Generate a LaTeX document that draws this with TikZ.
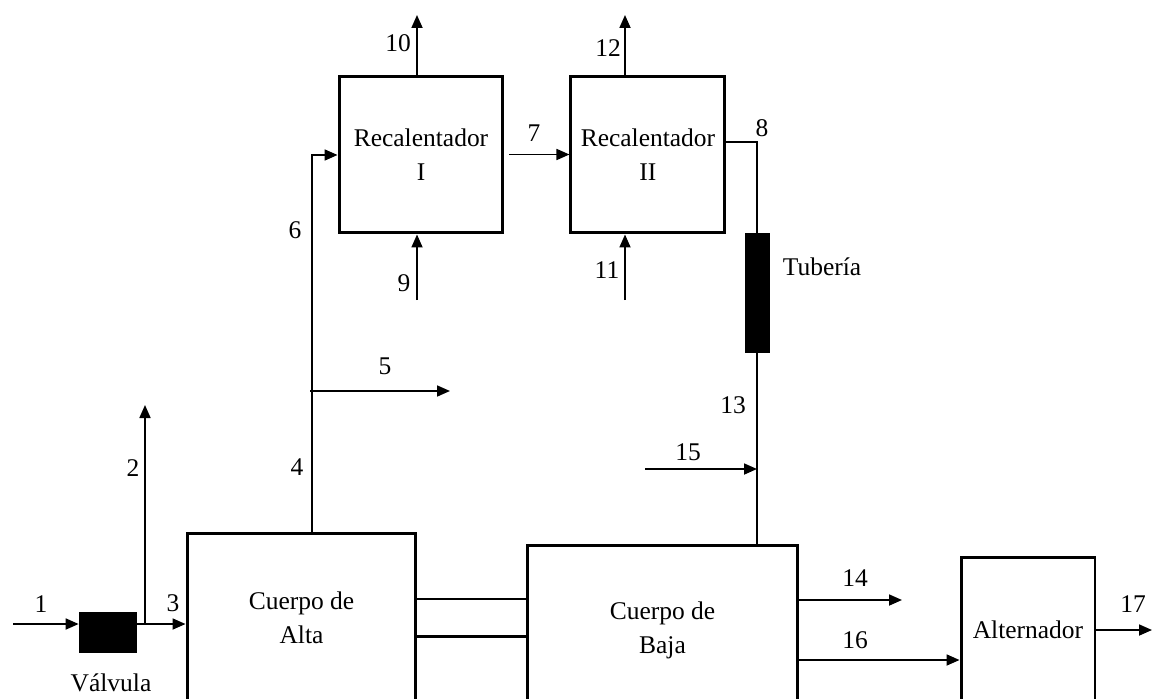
\documentclass[tikz,border=0pt]{standalone}
\usepackage{fontspec}
\setmainfont{Liberation Serif}
\usetikzlibrary{arrows.meta,positioning,calc}

\begin{document}
\begin{tikzpicture}[
  x=0.02cm, y=-0.02cm,
  font=\fontsize{14.5}{19.5}\selectfont,
  unit/.style={draw=black,line width=1.7pt,align=center,inner sep=0pt},
  blackbox/.style={draw=black,fill=black,inner sep=0pt},
  flow/.style={-{Triangle[length=2.6mm,width=2.2mm]},line width=1pt},
  pipe/.style={line width=1pt},
  shaft/.style={line width=1.7pt}
]
\useasboundingbox (0,0) rectangle (1152,699);
\clip (0,0) rectangle (1152,699);

% equipos
\node[unit,minimum width=4.58cm,minimum height=3.4cm] (alta) at (301.5,618) {Cuerpo de\\Alta};
\node[unit,minimum width=5.42cm,minimum height=3.4cm] (baja) at (662.5,630) {Cuerpo de\\Baja};
\node[unit,minimum width=2.68cm,minimum height=2.92cm] (alt) at (1028,630) {Alternador};
\node[unit,minimum width=3.28cm,minimum height=3.14cm] (recI) at (421,154.5) {Recalentador\\I};
\node[unit,minimum width=3.08cm,minimum height=3.14cm,right=1.3cm of recI] (recII) {Recalentador\\II};
\node[blackbox,minimum width=1.14cm,minimum height=0.8cm] (valv) at (107.5,632) {};
\node[blackbox,minimum width=0.48cm,minimum height=2.38cm] (tub) at (757,292.5) {};
\node (tvalv) at (111,683) {Válvula};
\node (ttub) at (822,267) {Tubería};

% extremos libres
\coordinate (in1) at (13,624);
\coordinate (j2) at (145,624);
\coordinate (out2) at (145,405);
\coordinate (c6) at (312,155);
\coordinate (j5) at (310,391);
\coordinate (out5) at (450,391);
\coordinate (out10) at (417,15);
\coordinate (in9) at (417,300);
\coordinate (out12) at (625,15);
\coordinate (in11) at (625,300);
\coordinate (c8) at (757,142);
\coordinate (in15) at (645,469);
\coordinate (out14) at (902,600);
\coordinate (s16) at (798,660);
\coordinate (out17) at (1152,630);

% corrientes
\draw[flow] (in1) -- (in1 -| valv.west);
\draw[flow] (in1 -| valv.east) -- (in1 -| alta.west);
\draw[flow] (j2) -- (out2);
\draw[flow] (c6 |- alta.north) -- (c6) -- (c6 -| recI.west);
\draw[flow] (j5) -- (out5);
\draw[flow] (out10 |- recI.north) -- (out10);
\draw[flow] (in9) -- (in9 |- recI.south);
\draw[flow,shorten <=1mm] (recI.east) -- (recII.west);
\draw[flow] (out12 |- recII.north) -- (out12);
\draw[flow] (in11) -- (in11 |- recII.south);
\draw[pipe] (c8 -| recII.east) -- (c8) -- (tub.north);
\draw[pipe] (tub.south) -- (tub.south |- baja.north);
\draw[flow] (in15) -- (in15 -| tub.south);
\draw[flow] (out14 -| baja.east) -- (out14);
\draw[flow] (s16 -| baja.east) -- (s16 -| alt.west);
\draw[flow] (alt.east) -- (out17);
\foreach \dy [count=\k] in {-19,18} {
  \coordinate (sh\k) at ($(alta.east)+(0,\dy)$);
  \draw[shaft] (sh\k) -- (sh\k -| baja.west);
}

% numeros
\node (n1) at (41,604) {1};
\node (n2) at (133,468) {2};
\node (n3) at (173,603) {3};
\node (n4) at (297,467) {4};
\node (n5) at (385,366) {5};
\node (n6) at (295,230) {6};
\node (n7) at (534,133) {7};
\node (n8) at (762,128) {8};
\node (n9) at (404,283) {9};
\node (n10) at (398,43) {10};
\node (n11) at (607,270) {11};
\node (n12) at (608,48) {12};
\node (n13) at (733,405) {13};
\node (n14) at (855,578) {14};
\node (n15) at (688,452) {15};
\node (n16) at (855,640) {16};
\node (n17) at (1133,604) {17};
\end{tikzpicture}
\end{document}
